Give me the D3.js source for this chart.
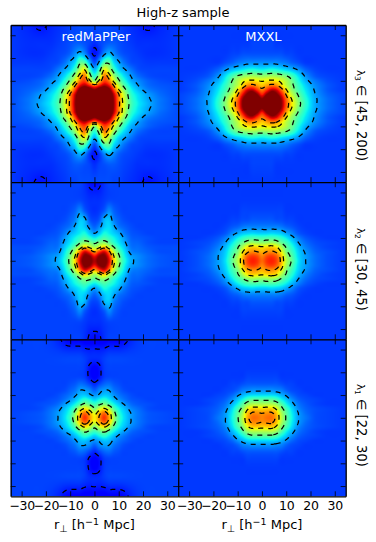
<!DOCTYPE html>
<html><head><meta charset="utf-8">
<script src="https://cdn.jsdelivr.net/npm/d3@7"></script>
<style>html,body{margin:0;padding:0;background:#fff}svg{display:block}text{font-family:"DejaVu Sans",sans-serif;fill:#000}</style>
</head><body><svg id="c" width="376" height="542"></svg>
<script>
// Quadrant samples (|r_perp|, |r_par| in Mpc/h; value = colour scale in %)
const gridCoords = [0,2,4,6,8,10,12,15,18,22,27,35];
const redmapperHigh = [
[118,125,128,120,98,78,62,44,36,30,24,20],
[114,122,126,118,97,77,61,43,35,29,24,20],
[106,116,122,114,94,76,59,41,34,28,23,20],
[100,108,112,104,84,66,53,38,31,25,22,20],
[80,88,96,90,74,58,46,34,28,23,21,20],
[50,68,84,78,62,50,40,30,26,22,20,19],
[40,54,78,70,54,43,35,28,23,20,19,19],
[30,42,64,56,42,33,29,24,20,19,19,19],
[20,30,44,46,34,29,24,20,19,18,18,18],
[14,18,26,30,26,22,20,19,18,17,17,18],
[17,19,20,21,21,20,19,18,17,17,17,18],
[20,20,20,20,19,19,18,17,16,14,16,18]];
const redmapperMid = [
[96,104,105,92,68,52,40,30,26,23,21,20],
[90,100,102,88,65,50,38,29,26,23,21,20],
[74,85,92,78,58,45,36,26,24,22,20,20],
[55,62,70,58,48,39,33,24,23,21,20,20],
[46,50,52,47,40,35,30,23,22,20,19,19],
[36,40,44,41,37,33,28,22,21,20,19,19],
[28,32,38,36,33,30,25,21,20,19,19,19],
[22,26,32,34,29,24,22,20,19,19,19,19],
[19,21,30,32,25,22,20,19,19,19,19,19],
[17,18,21,26,22,20,19,19,19,19,19,19],
[17,17,18,19,19,19,19,19,19,19,19,19],
[13,14,17,19,19,19,19,19,19,19,19,19]];
const redmapperLow = [
[66,76,86,74,55,42,35,28,24,21,20,19],
[62,72,80,70,52,40,34,28,24,21,20,19],
[50,60,66,58,45,37,32,26,23,20,19,19],
[42,46,50,44,37,32,28,23,21,20,19,19],
[33,37,40,36,31,27,24,21,20,19,19,19],
[27,29,32,31,27,24,22,20,19,19,19,19],
[22,26,28,28,24,22,20,19,19,19,19,19],
[16,19,22,23,21,20,19,19,19,19,19,19],
[12,14,18,19,19,19,19,19,19,19,19,19],
[12,14,18,19,19,19,19,19,19,19,19,19],
[17,17,18,19,19,19,19,19,19,19,19,19],
[11,11,11,12,12,12,13,16,18,19,19,19]];
const mxxlHigh = [
[105,115,120,115,100,82,68,52,40,29,23,19],
[100,112,118,112,98,80,66,50,39,29,23,19],
[88,100,108,102,90,74,60,47,37,28,22,19],
[78,86,95,92,80,66,54,43,35,27,21,18],
[70,74,78,76,68,58,51,41,33,26,21,18],
[64,66,67,66,62,56,49,38,30,24,20,18],
[53,54,55,54,52,49,44,35,27,21,19,18],
[36,37,38,37,35,33,31,27,22,19,18,18],
[26,26,26,26,25,24,22,20,18,18,18,18],
[20,20,20,20,20,19,19,18,18,18,18,18],
[19,19,19,18,18,18,18,18,18,18,18,18],
[18,18,18,18,18,18,18,18,18,18,18,18]];
const mxxlMid = [
[80,86,88,84,72,57,48,35,28,23,20,18],
[77,83,85,81,70,55,46,34,28,23,20,18],
[72,75,76,73,64,50,43,33,27,22,20,18],
[66,68,69,66,56,47,40,31,25,21,19,18],
[52,53,54,52,47,42,36,28,23,20,19,18],
[43,44,44,43,40,36,31,25,21,19,18,18],
[33,33,34,33,32,29,26,21,19,18,18,18],
[25,25,25,25,24,22,21,19,18,18,18,18],
[21,21,21,20,20,19,19,18,18,18,18,18],
[19,19,19,19,19,18,18,18,18,18,18,18],
[18,18,18,18,18,18,18,18,18,18,18,18],
[18,18,18,18,18,18,18,18,18,18,18,18]];
const mxxlLow = [
[77,79,79,72,58,47,38,28,24,20,19,18],
[75,76,76,70,56,46,37,28,23,20,19,18],
[68,69,69,63,51,43,35,26,22,20,19,18],
[56,56,56,53,45,37,31,24,21,19,18,18],
[46,46,46,43,37,32,27,22,20,19,18,18],
[34,34,34,33,30,27,23,20,19,18,18,18],
[27,27,27,26,25,22,20,19,18,18,18,18],
[21,21,21,21,20,19,19,18,18,18,18,18],
[19,19,19,19,18,18,18,18,18,18,18,18],
[18,18,18,18,18,18,18,18,18,18,18,18],
[18,18,18,18,18,18,18,18,18,18,18,18],
[18,18,18,18,18,18,18,18,18,18,18,18]];
const contourLevels = [15,28,48,65,75];
const tickValues = [-30,-20,-10,0,10,20,30];
const columnTitles = ["redMaPPer","MXXL"];
const rowLabels = [["3","[45, 200)"],["2","[30, 45)"],["1","[22, 30)"]];
const panelData = [[redmapperHigh,mxxlHigh],[redmapperMid,mxxlMid],[redmapperLow,mxxlLow]];

const xEdges = [10.7,178.2,345.7], yEdges = [25,182.2,339.3,496.3];
const extent = 34.5;
const svg = d3.select("#c");
// jet colormap channel tables
const jetR=d3.scaleLinear([0,.35,.66,.89,1],[0,0,1,1,.5]),jetG=d3.scaleLinear([0,.125,.375,.64,.91,1],[0,0,1,1,0,0]),jetB=d3.scaleLinear([0,.11,.34,.65,1],[.5,1,1,0,0]);
function jetColor(v){v=Math.max(0,Math.min(1,v));return [jetR(v)*255,jetG(v)*255,jetB(v)*255];}

const toIndex = d3.scaleLinear().domain(gridCoords).range(d3.range(gridCoords.length)).clamp(true);
function cr(a,b,c,d,t){return 0.5*((2*b)+(-a+c)*t+(2*a-5*b+4*c-d)*t*t+(-a+3*b-3*c+d)*t*t*t);}
function at(g,i,j){const n=gridCoords.length-1;i=Math.abs(i);j=Math.abs(j);return g[Math.min(j,n)][Math.min(i,n)];}
function sample(g,x,y){
  const u=toIndex(Math.abs(x)),v=toIndex(Math.abs(y));
  const i=Math.floor(u),j=Math.floor(v),s=u-i,t=v-j,r=[];
  for(let m=-1;m<=2;m++) r.push(cr(at(g,i-1,j+m),at(g,i,j+m),at(g,i+1,j+m),at(g,i+2,j+m),s));
  return cr(r[0],r[1],r[2],r[3],t);
}
const pad=3;
let clipId=0;
panelData.forEach((row,ri)=>row.forEach((grid,ci)=>{
  const x0=xEdges[ci],x1=xEdges[ci+1],y0=yEdges[ri],y1=yEdges[ri+1];
  const x=d3.scaleLinear([-extent,extent],[x0,x1]),y=d3.scaleLinear([-extent,extent],[y1,y0]);
  const w=Math.ceil(x1-x0),h=Math.ceil(y1-y0),nx=w+2*pad,ny=h+2*pad;
  const vals=new Float64Array(nx*ny);
  for(let b=0;b<ny;b++)for(let a=0;a<nx;a++){
    vals[b*nx+a]=sample(grid,x.invert(x0+(a-pad)+.5),y.invert(y0+(b-pad)+.5));
  }
  const cv=document.createElement("canvas");cv.width=w;cv.height=h;
  const ctx=cv.getContext("2d"),img=ctx.createImageData(w,h);
  for(let b=0;b<h;b++)for(let a=0;a<w;a++){
    const c=jetColor(vals[(b+pad)*nx+a+pad]/100),k=(b*w+a)*4;
    img.data[k]=c[0];img.data[k+1]=c[1];img.data[k+2]=c[2];img.data[k+3]=255;
  }
  ctx.putImageData(img,0,0);
  const id="clip"+(clipId++);
  svg.append("clipPath").attr("id",id).append("rect").attr("x",x0).attr("y",y0).attr("width",x1-x0).attr("height",y1-y0);
  const g=svg.append("g");
  g.append("image").attr("x",x0).attr("y",y0).attr("width",w).attr("height",h).attr("preserveAspectRatio","none").attr("href",cv.toDataURL());
  const cs=d3.contours().size([nx,ny]).smooth(true).thresholds(contourLevels)(Array.from(vals));
  const path=d3.geoPath(d3.geoTransform({point(px,py){this.stream.point(x0+px-pad,y0+py-pad);}}));
  g.append("g").attr("clip-path",`url(#${id})`).selectAll("path").data(cs).join("path")
    .attr("d",path).attr("fill","none").attr("stroke","#000").attr("stroke-width",1.25).attr("stroke-dasharray","5,5");
  const axes=[
    [d3.axisBottom(x),`translate(0,${y1})`],[d3.axisTop(x),`translate(0,${y0})`],
    [d3.axisLeft(y),`translate(${x0},0)`],[d3.axisRight(y),`translate(${x1},0)`]];
  axes.forEach(([ax,tr],k)=>{
    const sel=g.append("g").attr("transform",tr).call(ax.tickValues(tickValues).tickSize(-5).tickSizeOuter(0).tickPadding(5)
      .tickFormat(k===0&&ri===2?d3.format("d"):""));
    sel.selectAll(".tick text").style("font-size","12.5px").style("letter-spacing","-0.3px").style("font-family",'"DejaVu Sans",sans-serif').attr("fill","#000");
    sel.selectAll(".tick line").attr("stroke","#000").attr("stroke-width",.8);
    sel.select(".domain").attr("stroke","#000").attr("stroke-width",1.3);
  });
  if(ri===0) svg.append("text").attr("x",(x0+x1)/2+1.5).attr("y",41).attr("text-anchor","middle")
    .style("font-size","13px").style("fill","#fff").text(columnTitles[ci]);
  if(ri===2){
    const t=svg.append("text").attr("x",(x0+x1)/2).attr("y",529).attr("text-anchor","middle").style("font-size","13px");
    t.append("tspan").text("r");
    t.append("tspan").attr("dy",3).style("font-size","9.5px").text("⊥");
    t.append("tspan").attr("dy",-3).text(" [h");
    t.append("tspan").attr("dy",-4).style("font-size","9.5px").text("−1");
    t.append("tspan").attr("dy",4).text(" Mpc]");
  }
}));
svg.append("text").attr("x",183).attr("y",17).attr("text-anchor","middle").style("font-size","13px").text("High-z sample");
const rowLabelTop=[70,228,384];
rowLabels.forEach(([sub,range],i)=>{
  const t=svg.append("text").attr("transform",`translate(357,${rowLabelTop[i]}) rotate(90)`).style("font-size","13.2px");
  t.append("tspan").style("font-size","10px").text("λ");
  t.append("tspan").attr("dy",2).style("font-size","7.5px").text(sub);
  t.append("tspan").attr("dy",-2).text(" ∈ "+range);
});
</script></body></html>
